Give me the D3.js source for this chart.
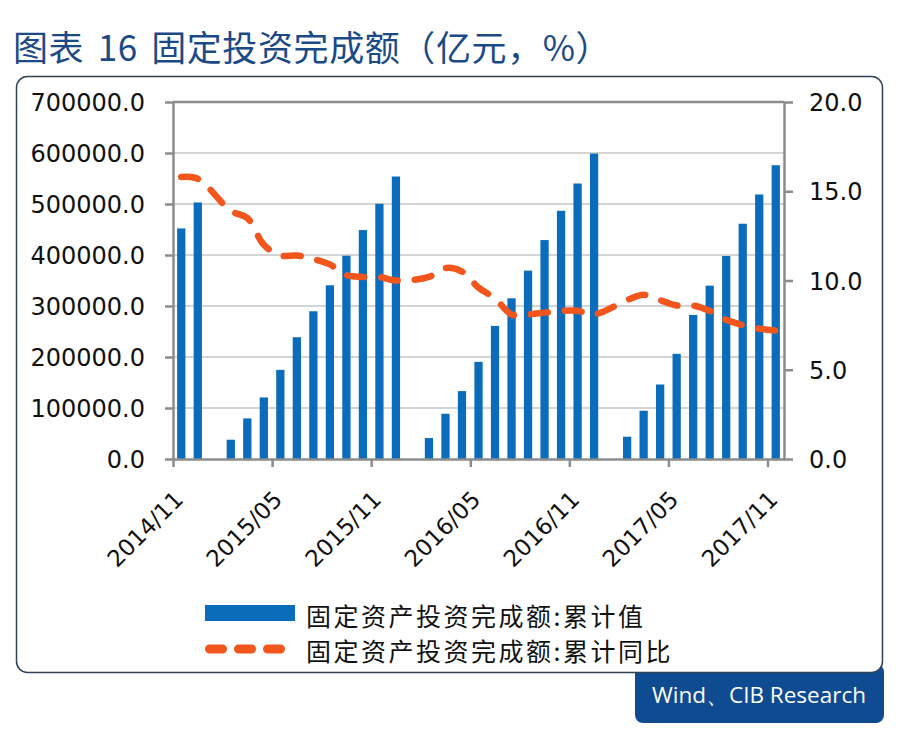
<!DOCTYPE html>
<html><head><meta charset="utf-8">
<script src="https://cdn.jsdelivr.net/npm/d3@7/dist/d3.min.js"></script>
<style>body{margin:0;background:#fff;} svg{display:block}</style>
</head><body><svg id="c" width="900" height="732"></svg>
<script>
// ---- data ----
const months = [
  "2014/11","2014/12",
  "2015/01","2015/02","2015/03","2015/04","2015/05","2015/06","2015/07","2015/08","2015/09","2015/10","2015/11","2015/12",
  "2016/01","2016/02","2016/03","2016/04","2016/05","2016/06","2016/07","2016/08","2016/09","2016/10","2016/11","2016/12",
  "2017/01","2017/02","2017/03","2017/04","2017/05","2017/06","2017/07","2017/08","2017/09","2017/10","2017/11"
];
const investCum = [
  452100, 503000,
  null, 37800, 79600, 120700, 174800, 238800, 289700, 340600, 398600, 448900, 500400, 553900,
  null, 41100, 88700, 133100, 190500, 261000, 315100, 369300, 429300, 486700, 540200, 598900,
  null, 43700, 94600, 146100, 206200, 282500, 339900, 398000, 461300, 518700, 576000
];
const investYoY = [
  15.8, 15.7,
  null, 13.9, 13.5, 12.0, 11.4, 11.4, 11.2, 10.9, 10.3, 10.2, 10.2, 10.0,
  null, 10.2, 10.7, 10.5, 9.6, 9.0, 8.1, 8.1, 8.2, 8.3, 8.3, 8.1,
  null, 8.9, 9.2, 8.9, 8.6, 8.6, 8.3, 7.8, 7.5, 7.3, 7.2
];
const leftTicks = [0, 100000, 200000, 300000, 400000, 500000, 600000, 700000];
const rightTicks = [0, 5, 10, 15, 20];
const xTickLabels = ["2014/11","2015/05","2015/11","2016/05","2016/11","2017/05","2017/11"];
const titleText = "图表 16 固定投资完成额（亿元，%）";
const legendLabels = ["固定资产投资完成额:累计值", "固定资产投资完成额:累计同比"];
const sourceText = "Wind、CIB Research";

// ---- styles ----
const BLUE = "#0a6cba", ORANGE = "#f2561d", AXIS = "#8c8c8c", GRID = "#a9a9a9";
const NUMFONT = "'DejaVu Sans', sans-serif";
const CJK = "'Noto Sans CJK SC', sans-serif";

const svg = d3.select("#c");
const L = 173, R = 784, T = 102, B = 459;

// footer box (behind frame)
svg.append("rect").attr("x", 635).attr("y", 664).attr("width", 249).attr("height", 59)
  .attr("rx", 8).attr("fill", "#0e4b90");
svg.append("text").attr("x", 759).attr("y", 694).attr("text-anchor", "middle")
  .attr("dominant-baseline", "central")
  .style("font-family", "'Open Sans', 'Noto Sans', sans-serif").style("font-size", "22.5px")
  .attr("fill", "#fff").text(sourceText);

// frame
svg.append("rect").attr("x", 16.5).attr("y", 76.5).attr("width", 866).attr("height", 596)
  .attr("rx", 11).attr("fill", "#fff").attr("stroke", "#2f4256").attr("stroke-width", 1.5);

// title
svg.append("text").attr("x", 13).attr("y", 45).attr("dominant-baseline", "central")
  .style("font-family", CJK).style("font-size", "35px").style("letter-spacing", "0.6px")
  .style("word-spacing", "5px").attr("fill", "#1b4a87")
  .text(titleText);

// scales
const x = d3.scaleBand().domain(months).range([L, R]).paddingInner(0.5).paddingOuter(0.25);
const xi = d3.scaleLinear().domain([0, months.length]).range([L, R]);
const yL = d3.scaleLinear().domain([0, 700000]).range([B, T]);
const yR = d3.scaleLinear().domain([0, 20]).range([B, T]);

// gridlines
svg.append("g").selectAll("line").data(leftTicks.filter(d => d > 0)).join("line")
  .attr("x1", L).attr("x2", R).attr("y1", d => yL(d)).attr("y2", d => yL(d))
  .attr("stroke", d => d === 700000 ? AXIS : GRID)
  .attr("stroke-width", d => d === 700000 ? 2.5 : 1.2);

// bars
const barData = months.map((m, i) => ({m, v: investCum[i]})).filter(d => d.v != null);
svg.append("g").selectAll("rect").data(barData).join("rect")
  .attr("x", d => x(d.m)).attr("width", x.bandwidth())
  .attr("y", d => yL(d.v)).attr("height", d => B - yL(d.v))
  .attr("fill", BLUE);

// line
const lineData = months.map((m, i) => ({m, v: investYoY[i]})).filter(d => d.v != null);
const line = d3.line().x(d => x(d.m) + x.bandwidth() / 2).y(d => yR(d.v))
  .curve(d3.curveCatmullRom.alpha(0.5));
svg.append("path").datum(lineData).attr("d", line)
  .attr("fill", "none").attr("stroke", ORANGE).attr("stroke-width", 6.5)
  .attr("stroke-linecap", "round").attr("stroke-dasharray", "17 17");

// axes
function styleAxis(g) {
  g.select(".domain").attr("stroke", AXIS).attr("stroke-width", 2.5);
  g.selectAll(".tick line").attr("stroke", AXIS).attr("stroke-width", 2.5);
  g.selectAll(".tick text").attr("fill", "#111").style("font-family", NUMFONT).style("font-size", "24px");
}
const gl = svg.append("g").attr("transform", `translate(${L},0)`)
  .call(d3.axisLeft(yL).tickValues(leftTicks).tickSize(8).tickSizeOuter(0).tickPadding(20)
    .tickFormat(d3.format(".1f")));
styleAxis(gl);
gl.selectAll(".tick text").attr("dy", "0.36em");

const gr = svg.append("g").attr("transform", `translate(${R},0)`)
  .call(d3.axisRight(yR).tickValues(rightTicks).tickSize(9).tickSizeOuter(0).tickPadding(16)
    .tickFormat(d3.format(".1f")));
styleAxis(gr);
gr.selectAll(".tick text").attr("dy", "0.36em");

const tickIdx = xTickLabels.map(l => months.indexOf(l));
const gb = svg.append("g").attr("transform", `translate(0,${B})`)
  .call(d3.axisBottom(xi).tickValues(tickIdx).tickSize(8).tickSizeOuter(0)
    .tickFormat(i => months[i]));
styleAxis(gb);
gb.selectAll(".tick text").attr("y", null).attr("dy", null)
  .attr("transform", "translate(11,42) rotate(-45)").style("text-anchor", "end")
  .style("font-size", "23px");

// legend
const lg = svg.append("g");
lg.append("rect").attr("x", 205).attr("y", 605).attr("width", 90).attr("height", 16).attr("fill", BLUE);
lg.append("line").attr("x1", 209.5).attr("x2", 281).attr("y1", 649).attr("y2", 649)
  .attr("stroke", ORANGE).attr("stroke-width", 9).attr("stroke-linecap", "round")
  .attr("stroke-dasharray", "13 16");
lg.selectAll("text").data(legendLabels).join("text")
  .attr("x", 306).attr("y", (d, i) => i === 0 ? 615 : 650)
  .attr("dominant-baseline", "central")
  .style("font-family", CJK).style("font-size", "25px").style("letter-spacing", "2.5px")
  .attr("fill", "#111").text(d => d);
</script></body></html>
